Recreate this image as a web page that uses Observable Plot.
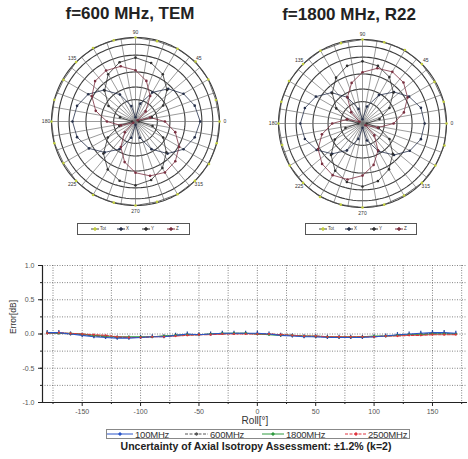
<!DOCTYPE html>
<html><head><meta charset="utf-8">
<script src="https://cdn.jsdelivr.net/npm/d3@7"></script>
<script src="https://cdn.jsdelivr.net/npm/@observablehq/plot@0.6"></script>
<style>
body{margin:0;background:#fff;font-family:"Liberation Sans",Arial,sans-serif;}
#root{position:relative;width:468px;height:459px;overflow:hidden;background:#fff;}
.title{font-weight:bold;font-size:17px;line-height:1;color:#222;white-space:nowrap;transform:translateX(-50%);}
.box{border:1px solid #555;box-sizing:border-box;}
.lt{font-size:4.5px;color:#333;line-height:1;white-space:nowrap;}
.bt{font-size:9.5px;color:#333;line-height:1;white-space:nowrap;letter-spacing:-0.2px;}
.cap{font-weight:bold;font-size:10.5px;line-height:1;color:#222;white-space:nowrap;transform:translateX(-50%);}
</style></head><body><div id="root"></div>
<script>
// ---------- polar data ----------
const polarAngles = [0,15,30,45,60,75,90,105,120,135,150,165,180,195,210,225,240,255,270,285,300,315,330,345];
const polarSeries = ["Tot","X","Y","Z"];
const polarLineColors = ["#4a4a4a","#26304a","#303030","#7a3040"];
const polarDotColors  = ["#c3cf3e","#26304a","#303030","#7a3040"];
const polarLabelAngles = [0,45,90,135,180,225,270,315];
const ringRadii = [0.26,0.41,0.59,0.79,0.92,1.0];

const p1Tot = [1.00,0.99,1.00,1.01,1.00,0.99,1.00,1.00,1.01,1.00,0.99,1.00,1.00,1.00,0.99,1.00,1.01,1.00,1.00,0.99,1.00,1.00,1.01,1.00];
const p1X   = [0.77,0.73,0.66,0.55,0.40,0.22,0.05,0.19,0.37,0.53,0.65,0.72,0.75,0.72,0.64,0.52,0.38,0.20,0.04,0.20,0.38,0.54,0.66,0.73];
const p1Y   = [0.04,0.20,0.38,0.53,0.65,0.72,0.76,0.73,0.65,0.52,0.37,0.19,0.04,0.20,0.38,0.54,0.66,0.73,0.76,0.72,0.64,0.52,0.38,0.21];
const p1Z   = [0.35,0.18,0.03,0.17,0.35,0.50,0.61,0.68,0.70,0.68,0.60,0.49,0.34,0.18,0.03,0.18,0.35,0.50,0.61,0.67,0.70,0.67,0.60,0.49];

const p2Tot = [1.00,1.00,0.99,1.00,1.01,1.00,1.00,0.99,1.00,1.00,1.01,1.00,1.00,0.99,1.00,1.00,1.01,1.00,1.00,1.00,0.99,1.00,1.00,1.01];
const p2X   = [0.74,0.72,0.64,0.53,0.39,0.21,0.05,0.18,0.36,0.52,0.64,0.71,0.74,0.71,0.63,0.51,0.37,0.19,0.05,0.21,0.38,0.53,0.65,0.72];
const p2Y   = [0.05,0.21,0.37,0.52,0.64,0.71,0.74,0.71,0.63,0.51,0.36,0.19,0.05,0.21,0.38,0.53,0.65,0.72,0.75,0.71,0.63,0.51,0.37,0.20];
const p2Z   = [0.37,0.51,0.62,0.69,0.71,0.68,0.61,0.50,0.36,0.19,0.04,0.19,0.36,0.50,0.61,0.68,0.71,0.69,0.62,0.51,0.37,0.20,0.04,0.19];

// ---------- line chart data ----------
const roll = [-180,-170,-160,-150,-140,-130,-120,-110,-100,-90,-80,-70,-60,-50,-40,-30,-20,-10,0,10,20,30,40,50,60,70,80,90,100,110,120,130,140,150,160,170];
const e100  = [0.02,0.02,0.00,-0.02,-0.04,-0.05,-0.06,-0.06,-0.05,-0.04,-0.04,-0.02,0.00,-0.01,0.00,0.01,0.01,0.01,0.01,0.00,-0.02,-0.03,-0.04,-0.04,-0.05,-0.05,-0.05,-0.05,-0.04,-0.03,-0.01,0.00,0.01,0.02,0.02,0.01];
const e600  = [0.02,0.01,0.00,-0.01,-0.03,-0.04,-0.05,-0.05,-0.05,-0.04,-0.03,-0.02,-0.01,-0.01,0.00,0.00,0.01,0.01,0.00,0.00,-0.01,-0.02,-0.03,-0.04,-0.04,-0.05,-0.05,-0.04,-0.04,-0.03,-0.02,-0.01,0.00,0.01,0.01,0.00];
const e1800 = [0.01,0.01,0.01,0.00,-0.02,-0.03,-0.04,-0.04,-0.04,-0.04,-0.03,-0.02,-0.01,-0.01,0.00,0.01,0.01,0.01,0.00,-0.01,-0.02,-0.02,-0.03,-0.03,-0.04,-0.04,-0.04,-0.04,-0.03,-0.03,-0.02,-0.01,-0.01,0.00,0.00,0.00];
const e2500 = [0.01,0.02,0.01,0.00,-0.01,-0.02,-0.04,-0.05,-0.05,-0.04,-0.04,-0.03,-0.02,-0.01,-0.01,0.00,0.00,0.00,0.00,0.00,-0.01,-0.02,-0.03,-0.03,-0.04,-0.04,-0.04,-0.04,-0.04,-0.03,-0.03,-0.02,-0.02,-0.01,-0.01,-0.01];
const freqNames = ["100MHz","600MHz","1800MHz","2500MHz"];
const freqColors = ["#2a55c8","#555555","#2e9a3e","#e0343e"];
const xMajor = [-150,-100,-50,0,50,100,150];
const xMinor = [-175,-125,-75,-25,25,75,125,175];
const xGrid  = [-175,-150,-125,-100,-75,-50,-25,0,25,50,75,100,125,150,175];
const yMajor = [-1,-0.5,0,0.5,1];
const yGrid  = [-1,-0.75,-0.5,-0.25,0,0.25,0.5,0.75,1];

const root = document.getElementById("root");
function place(el, left, top) { el.style.position = "absolute"; el.style.left = left + "px"; el.style.top = top + "px"; root.appendChild(el); return el; }
function div(cls, text, left, top, extra) { const d = document.createElement("div"); d.className = cls; d.textContent = text; if (extra) Object.assign(d.style, extra); return place(d, left, top); }

const lon = a => a + 90;
const circle = r => d3.geoCircle().center([0, 90]).radius(r).precision(2)();

function polar(vals) {
  const rows = [];
  polarSeries.forEach((s, k) => {
    polarAngles.forEach((a, i) => rows.push({s, a, r: vals[k][i], closing: false}));
    rows.push({s, a: 360, r: vals[k][0], closing: true});
  });
  return Plot.plot({
    width: 200, height: 200, margin: 16,
    projection: {type: "azimuthal-equidistant", rotate: [0, -90], domain: circle(1), clip: false},
    style: {fontFamily: "Liberation Sans, Arial, sans-serif", background: "transparent", overflow: "visible"},
    marks: [
      Plot.geo(ringRadii, {geometry: circle, stroke: "#3c3c3c", strokeWidth: 1.1, fill: "none"}),
      Plot.link(d3.range(0, 360, 10), {x1: a => lon(a), y1: 90, x2: a => lon(a), y2: 89, stroke: "#707070", strokeWidth: 0.7}),
      Plot.line(rows, {x: d => lon(d.a), y: d => 90 - d.r, z: "s", stroke: d => polarLineColors[polarSeries.indexOf(d.s)], strokeWidth: 0.8}),
      Plot.dot(rows.filter(d => !d.closing), {x: d => lon(d.a), y: d => 90 - d.r, fill: d => polarDotColors[polarSeries.indexOf(d.s)], r: 1.3}),
      Plot.text(polarLabelAngles, {x: a => lon(a), y: 90 - 1.065, text: a => String(a), fontSize: 5, fill: "#333", clip: false})
    ]
  });
}

// titles
div("title", "f=600 MHz, TEM", 130, 5);
div("title", "f=1800 MHz, R22", 349, 6);

// polar plots
place(polar([p1Tot, p1X, p1Y, p1Z]), 35, 21);
place(polar([p2Tot, p2X, p2Y, p2Z]), 262, 23);

// legend swatches
function swatch(color, markColor, w, h, dash, markerR, hollow) {
  const ns = "http://www.w3.org/2000/svg";
  const s = document.createElementNS(ns, "svg");
  s.setAttribute("width", w); s.setAttribute("height", h);
  const l = document.createElementNS(ns, "line");
  l.setAttribute("x1", 0); l.setAttribute("x2", w); l.setAttribute("y1", h / 2); l.setAttribute("y2", h / 2);
  l.setAttribute("stroke", color); l.setAttribute("stroke-width", 1);
  if (dash) l.setAttribute("stroke-dasharray", dash);
  s.appendChild(l);
  const c = document.createElementNS(ns, "circle");
  c.setAttribute("cx", w / 2); c.setAttribute("cy", h / 2); c.setAttribute("r", markerR);
  c.setAttribute("fill", hollow ? "#fff" : markColor); c.setAttribute("stroke", markColor);
  s.appendChild(c);
  return s;
}
function polarLegend(left, top, w, offs) {
  const b = document.createElement("div"); b.className = "box"; b.style.width = w + "px"; b.style.height = "12px";
  place(b, left, top);
  polarSeries.forEach((s, i) => {
    place(swatch(polarLineColors[i], polarDotColors[i], 8, 6, null, 1.3, false), left + offs[i], top + 3);
    div("lt", s, left + offs[i] + 9, top + 4);
  });
}
polarLegend(77, 223, 113, [14, 40, 65, 90]);
polarLegend(305, 223, 112, [14, 40, 65, 90]);

// line chart
const lineRows = [];
[e100, e600, e1800, e2500].forEach((arr, k) => roll.forEach((r, i) => lineRows.push({f: freqNames[k], roll: r, v: arr[i]})));
const font = "Liberation Sans, Arial, sans-serif";
const lc = Plot.plot({
  width: 468, height: 180, marginTop: 15, marginBottom: 28, marginLeft: 42, marginRight: 1,
  x: {domain: [-184, 180]},
  y: {domain: [-1, 1]},
  color: {domain: freqNames, range: freqColors},
  style: {fontFamily: font, fontSize: "7px", color: "#555", background: "transparent"},
  marks: [
    Plot.gridX(xGrid, {stroke: "#555", strokeOpacity: 0.9, strokeDasharray: "1,1.5", strokeWidth: 0.8}),
    Plot.gridY(yGrid, {stroke: "#555", strokeOpacity: 0.9, strokeDasharray: "1,1.5", strokeWidth: 0.8}),
    Plot.axisY({ticks: yMajor, tickFormat: d => d.toFixed(1), tickSize: 4, tickPadding: 4, label: null, stroke: "#222"}),
    Plot.axisY({ticks: yGrid, tickSize: 2, text: null, label: null, stroke: "#222"}),
    Plot.axisX({ticks: xMajor, tickFormat: d => String(d), tickSize: 4, tickPadding: 3, label: null, stroke: "#222"}),
    Plot.axisX({ticks: xMinor, tickSize: 2, text: null, label: null, stroke: "#222"}),
    Plot.ruleX([-184], {stroke: "#222", strokeWidth: 1.2}),
    Plot.ruleY([-1], {stroke: "#222", strokeWidth: 1.2}),
    Plot.line(lineRows.filter(d => d.f === "600MHz"), {x: "roll", y: "v", stroke: "f", strokeWidth: 1, strokeDasharray: "3,1.5"}),
    Plot.line(lineRows.filter(d => d.f === "1800MHz"), {x: "roll", y: "v", stroke: "f", strokeWidth: 1.1}),
    Plot.line(lineRows.filter(d => d.f === "2500MHz"), {x: "roll", y: "v", stroke: "f", strokeWidth: 1.1, strokeDasharray: "3,1.5"}),
    Plot.line(lineRows.filter(d => d.f === "100MHz"), {x: "roll", y: "v", stroke: "f", strokeWidth: 1.1}),
    Plot.ruleX(lineRows.filter(d => d.f === "100MHz"), {x: "roll", y1: d => d.v - 0.03, y2: d => d.v + 0.03, stroke: "#1d3f9a", strokeWidth: 1.2}),
    Plot.dot(lineRows, {x: "roll", y: "v", fill: "f", r: 1.1}),
    Plot.text(["Error[dB]"], {frameAnchor: "left", dx: -29, rotate: -90, fontSize: 8.5, fill: "#333"}),
    Plot.text(["Roll[°]"], {frameAnchor: "bottom", dy: 21, fontSize: 10, fill: "#333"})
  ]
});
place(lc, 0, 250);

// bottom legend
const lb = document.createElement("div"); lb.className = "box"; lb.style.width = "304px"; lb.style.height = "10px"; lb.style.borderColor = "#888";
place(lb, 106, 429);
const legPos = [[107, 26, 135], [185, 23, 210], [262, 22, 286], [345, 22, 368]];
const legDash = [null, "3,1.5", null, "3,1.5"];
freqNames.forEach((n, i) => {
  const [sx, sw, tx] = legPos[i];
  place(swatch(freqColors[i], freqColors[i], sw, 8, legDash[i], 1.2, false), sx, 430);
  div("bt", n, tx, 429.5);
});

// caption
div("cap", "Uncertainty of Axial Isotropy Assessment: \u00b11.2% (k=2)", 256, 441);
</script></body></html>
